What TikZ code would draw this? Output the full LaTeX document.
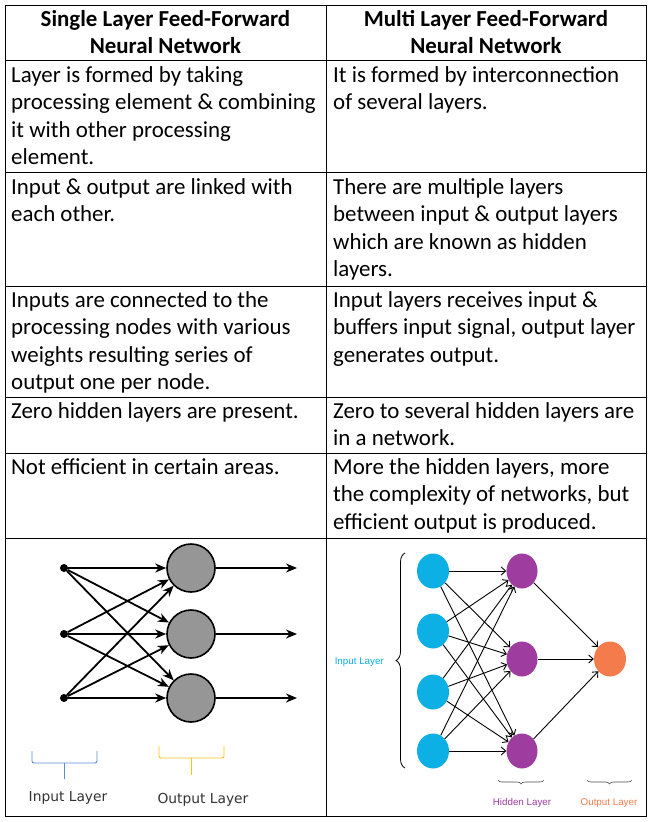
\documentclass[tikz,border=0pt]{standalone}
\usepackage{fontspec}
\setmainfont{Carlito}
\newfontfamily\dvs{DejaVu Sans}
\newfontfamily\lsans{Liberation Sans}
\usetikzlibrary{arrows.meta,shapes.geometric,decorations.pathreplacing}
\definecolor{incyan}{RGB}{12,176,228}
\definecolor{hidpurple}{RGB}{158,60,159}
\definecolor{outorange}{RGB}{244,124,76}
\definecolor{graynode}{RGB}{150,150,150}
\definecolor{bracebl}{RGB}{91,139,208}
\definecolor{braceyl}{RGB}{250,196,20}
\begin{document}
\begin{tikzpicture}[x=1pt,y=-1pt,
  tbl/.style={line width=1pt,black},
  cell/.style={anchor=base west,inner sep=0pt,font=\fontsize{22.9}{27.5}\selectfont},
  hdr/.style={anchor=base,inner sep=0pt,font=\fontsize{22.9}{27.2}\selectfont\bfseries},
  dotnode/.style={circle,fill=black,inner sep=0pt,minimum size=8pt},
  gcirc/.style={circle,draw=black,line width=1.6pt,fill=graynode,inner sep=0pt,minimum size=48pt},
  thickarr/.style={line width=1.8pt,-{Stealth[length=11pt,width=9pt,inset=3.5pt]}},
  thinarr/.style={line width=0.9pt,-{Straight Barb[length=4.5pt,width=8pt]}},
  innode/.style={ellipse,fill=incyan,inner sep=0pt,minimum width=32pt,minimum height=35pt},
  hidnode/.style={ellipse,fill=hidpurple,inner sep=0pt,minimum width=31pt,minimum height=35pt},
  outnode/.style={ellipse,fill=outorange,inner sep=0pt,minimum width=32pt,minimum height=35pt},
  leftlab/.style={inner sep=0pt,anchor=base,font=\dvs\fontsize{13.8}{16}\selectfont,text=black!80},
  rightlab/.style={inner sep=0pt,font=\lsans\fontsize{9.8}{12}\selectfont}
]
\useasboundingbox[fill=white] (0,0) rectangle (652,822);

% table grid
\draw[tbl] (5,5) rectangle (646,816);
\draw[tbl] (326,5) -- (326,816);
\foreach \yy in {60,172,286,397,453,538} \draw[tbl] (5,\yy) -- (646,\yy);

% header
\node[hdr] (h1) at (165.5,26) {\parbox[t]{318pt}{\centering Single Layer Feed-Forward\\Neural Network}};
\node[hdr] (h2) at (486,26) {\parbox[t]{318pt}{\centering Multi Layer Feed-Forward\\Neural Network}};

% rows
\node[cell] (r1l) at (11,82) {\parbox[t]{314pt}{Layer is formed by taking\\processing element \& combining\\it with other processing\\element.}};
\node[cell] (r1r) at (333,82) {\parbox[t]{314pt}{It is formed by interconnection\\of several layers.}};
\node[cell] (r2l) at (11,194) {\parbox[t]{314pt}{Input \& output are linked with\\each other.}};
\node[cell] (r2r) at (333,194) {\parbox[t]{314pt}{There are multiple layers\\between input \& output layers\\which are known as hidden\\layers.}};
\node[cell] (r3l) at (11,307) {\parbox[t]{314pt}{Inputs are connected to the\\processing nodes with various\\weights resulting series of\\output one per node.}};
\node[cell] (r3r) at (333,307) {\parbox[t]{314pt}{Input layers receives input \&\\buffers input signal, output layer\\generates output.}};
\node[cell] (r4l) at (11,418) {\parbox[t]{314pt}{Zero hidden layers are present.}};
\node[cell] (r4r) at (333,418) {\parbox[t]{314pt}{Zero to several hidden layers are\\in a network.}};
\node[cell] (r5l) at (11,474) {\parbox[t]{314pt}{Not efficient in certain areas.}};
\node[cell] (r5r) at (333,474) {\parbox[t]{314pt}{More the hidden layers, more\\the complexity of networks, but\\efficient output is produced.}};

% ---- left diagram: single layer
\node[dotnode] (a1) at (64,568) {};
\node[dotnode] (a2) at (64,634) {};
\node[dotnode] (a3) at (64,698) {};
\node[gcirc] (b1) at (191,568) {};
\node[gcirc] (b2) at (191,634) {};
\node[gcirc] (b3) at (191,698) {};
\coordinate (c1) at (297,568);
\coordinate (c2) at (297,634);
\coordinate (c3) at (297,698);
\foreach \i in {1,2,3}{
  \foreach \j in {1,2,3}{
    \draw[thickarr] (a\i) -- (b\j);
  }
  \draw[thickarr] (b\i) -- (c\i);
}
% brackets
\draw[bracebl,line width=0.9pt,rounded corners=2pt] (32,751) -- (32,763) -- (97,763) -- (97,751);
\draw[bracebl,line width=0.9pt] (64.5,763) -- (64.5,779);
\draw[braceyl,line width=0.9pt,rounded corners=2pt] (159,746) -- (159,758) -- (224,758) -- (224,746);
\draw[braceyl,line width=0.9pt] (191.5,758) -- (191.5,775);
\node[leftlab] (il) at (68,801) {Input Layer};
\node[leftlab] (ol) at (203,803) {Output Layer};

% ---- right diagram: multi layer
\node[innode] (p1) at (433,571) {};
\node[innode] (p2) at (433,631) {};
\node[innode] (p3) at (433,692) {};
\node[innode] (p4) at (433,751) {};
\node[hidnode] (q1) at (522,571) {};
\node[hidnode] (q2) at (522,659) {};
\node[hidnode] (q3) at (522,751) {};
\node[outnode] (s1) at (610,659) {};
\foreach \i in {1,2,3,4}{
  \foreach \j in {1,2,3}{
    \draw[thinarr] (p\i) -- (q\j);
  }
}
\foreach \j in {1,2,3} \draw[thinarr] (q\j) -- (s1);

\draw[line width=0.8pt,decorate,decoration={brace,amplitude=9pt}] (405,768) -- (405,553);
\draw[black!70,line width=0.6pt,decorate,decoration={brace,amplitude=4pt,mirror}] (498,780) -- (544,780);
\draw[black!70,line width=0.6pt,decorate,decoration={brace,amplitude=4pt,mirror}] (587,780) -- (632,780);
\node[rightlab,anchor=base east,text=incyan] (ril) at (384,664) {Input Layer};
\node[rightlab,anchor=base,text=hidpurple] (rhl) at (522,805) {Hidden Layer};
\node[rightlab,anchor=base,text=outorange] (rol) at (609,805) {Output Layer};
\end{tikzpicture}
\end{document}
